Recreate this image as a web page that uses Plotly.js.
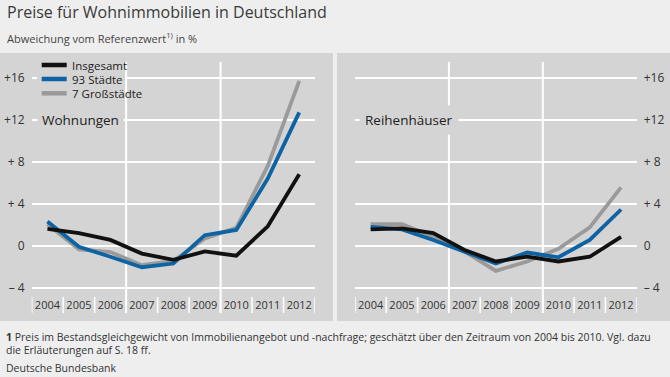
<!DOCTYPE html>
<html>
<head>
<meta charset="utf-8">
<script src="https://cdn.plot.ly/plotly-3.0.1.min.js"></script>
<style>html,body{margin:0;padding:0;background:#eeeeee;}#chart{width:670px;height:377px;}</style>
</head>
<body>
<div id="chart"></div>
<script>
// ---- data ----
const years = [2004, 2005, 2006, 2007, 2008, 2009, 2010, 2011, 2012];
const seriesNames = ['Insgesamt', '93 Städte', '7 Großstädte'];
const panelTitles = ['Wohnungen', 'Reihenhäuser'];
const wohnInsgesamt = [1.6, 1.2, 0.55, -0.75, -1.35, -0.55, -0.95, 1.85, 6.8];
const wohn93 = [2.3, -0.1, -1.05, -2.05, -1.7, 1.0, 1.5, 6.4, 12.7];
const wohn7 = [2.05, -0.35, -0.6, -1.85, -1.45, 0.7, 1.7, 7.6, 15.7];
const reihInsgesamt = [1.55, 1.65, 1.2, -0.4, -1.5, -1.05, -1.5, -1.05, 0.85];
const reih93 = [1.8, 1.55, 0.55, -0.55, -1.7, -0.65, -1.1, 0.55, 3.45];
const reih7 = [2.05, 2.05, 0.85, -0.55, -2.4, -1.5, -0.3, 1.75, 5.55];
const yTickVals = [-4, 0, 4, 8, 12, 16];
const yTickText = ['– 4', '0', '+ 4', '+ 8', '+12', '+16'];
const titleText = 'Preise für Wohnimmobilien in Deutschland';
const subtitleText = 'Abweichung vom Referenzwert<sup>1)</sup> in %';
const footnote1 = '<b>1</b> Preis im Bestandsgleichgewicht von Immobilienangebot und -nachfrage; geschätzt über den Zeitraum von 2004 bis 2010. Vgl. dazu';
const footnote2 = 'die Erläuterungen auf S. 18 ff.';
const sourceText = 'Deutsche Bundesbank';

// ---- styling ----
const W = 670, H = 377;
const px = x => x / W;
const py = y => 1 - y / H;
const FONT = 'Open Sans, sans-serif';
const colors = ['#111111', '#0d63a3', '#9a9a9a'];
const panelColor = '#d4d4d4';
const textColor = '#333333';
const lineW = 3.8;

const leftSeries = [wohnInsgesamt, wohn93, wohn7];
const rightSeries = [reihInsgesamt, reih93, reih7];

const traces = [];
// draw order: 7 Großstädte, 93 Städte, Insgesamt (black on top)
[2, 1, 0].forEach(i => {
  traces.push({x: years, y: leftSeries[i], xaxis: 'x', yaxis: 'y', type: 'scatter', mode: 'lines',
    name: seriesNames[i], line: {color: colors[i], width: lineW}, showlegend: false, hoverinfo: 'skip'});
  traces.push({x: years, y: rightSeries[i], xaxis: 'x2', yaxis: 'y2', type: 'scatter', mode: 'lines',
    name: seriesNames[i], line: {color: colors[i], width: lineW}, showlegend: false, hoverinfo: 'skip'});
});

const yDomain = [py(297), py(62)];
const yRange = [-4.886, 17.5];
const xRange = [years[0] - 0.5, years[years.length - 1] + 0.5];

const xCommon = {range: xRange, tickvals: years, ticktext: years.map(String), showgrid: false, zeroline: false,
  showline: false, ticks: '', tickfont: {family: FONT, size: 11, color: textColor}, fixedrange: true};
const yCommon = {range: yRange, tickvals: yTickVals, ticktext: yTickText, showgrid: true, gridcolor: '#ffffff',
  gridwidth: 2, zeroline: false, showline: false, ticks: '', domain: yDomain,
  tickfont: {family: FONT, size: 12, color: textColor}, ticklabelstandoff: 6, fixedrange: true};

const shapes = [
  {type: 'rect', xref: 'paper', yref: 'paper', x0: px(0), x1: px(333), y0: py(321), y1: py(53), fillcolor: panelColor, line: {width: 0}, layer: 'below'},
  {type: 'rect', xref: 'paper', yref: 'paper', x0: px(337), x1: px(670), y0: py(321), y1: py(53), fillcolor: panelColor, line: {width: 0}, layer: 'below'}
];
['x', 'x2'].forEach(xr => {
  // long vertical lines between 2006/2007 and 2009/2010
  [2, 5].forEach(i => {
    const xb = (years[i] + years[i + 1]) / 2;
    shapes.push({type: 'line', xref: xr, yref: 'paper', x0: xb, x1: xb, y0: py(313), y1: py(62), line: {color: '#ffffff', width: 2}, layer: 'below'});
  });
  // short separators in the label zone
  years.concat([years[years.length - 1] + 1]).forEach(yr => {
    const xb = yr - 0.5;
    shapes.push({type: 'line', xref: xr, yref: 'paper', x0: xb, x1: xb, y0: py(313), y1: py(297), line: {color: '#ffffff', width: 1.5}, layer: 'below'});
  });
});
// legend background + samples
shapes.push({type: 'rect', xref: 'paper', yref: 'paper', x0: px(37), x1: px(125), y0: py(100), y1: py(58), fillcolor: panelColor, line: {width: 0}, layer: 'above'});
const legendY = [65, 79, 93.3];
seriesNames.forEach((n, i) => {
  shapes.push({type: 'line', xref: 'paper', yref: 'paper', x0: px(41.7), x1: px(66.7), y0: py(legendY[i]), y1: py(legendY[i]), line: {color: colors[i], width: 4.5}, layer: 'above'});
});

const annotations = [
  {text: titleText, xref: 'paper', yref: 'paper', x: px(5), y: py(12), xanchor: 'left', yanchor: 'middle', showarrow: false, font: {family: FONT, size: 16, color: '#3a3a3a'}},
  {text: subtitleText, xref: 'paper', yref: 'paper', x: px(5), y: py(38), xanchor: 'left', yanchor: 'middle', showarrow: false, font: {family: FONT, size: 11, color: '#444444'}},
  {text: panelTitles[0], xref: 'paper', yref: 'paper', x: px(37), y: py(120), xanchor: 'left', yanchor: 'middle', showarrow: false, bgcolor: panelColor, borderpad: 4, font: {family: FONT, size: 13.5, color: '#222222'}},
  {text: panelTitles[1], xref: 'paper', yref: 'paper', x: px(359), y: py(120), xanchor: 'left', yanchor: 'middle', showarrow: false, bgcolor: panelColor, borderpad: 5, font: {family: FONT, size: 13.5, color: '#222222'}},
  {text: footnote1, xref: 'paper', yref: 'paper', x: px(4), y: py(337), xanchor: 'left', yanchor: 'middle', showarrow: false, font: {family: FONT, size: 10.5, color: textColor}},
  {text: footnote2, xref: 'paper', yref: 'paper', x: px(4), y: py(350), xanchor: 'left', yanchor: 'middle', showarrow: false, font: {family: FONT, size: 10.5, color: textColor}},
  {text: sourceText, xref: 'paper', yref: 'paper', x: px(4), y: py(368), xanchor: 'left', yanchor: 'middle', showarrow: false, font: {family: FONT, size: 10.5, color: textColor}}
];
seriesNames.forEach((n, i) => {
  annotations.push({text: n, xref: 'paper', yref: 'paper', x: px(70), y: py(legendY[i]), xanchor: 'left', yanchor: 'middle', showarrow: false, font: {family: FONT, size: 11.5, color: '#222222'}});
});

const layout = {
  width: W, height: H,
  margin: {l: 0, r: 0, t: 0, b: 0},
  paper_bgcolor: '#eeeeee',
  plot_bgcolor: 'rgba(0,0,0,0)',
  showlegend: false,
  font: {family: FONT, color: textColor},
  xaxis: Object.assign({}, xCommon, {domain: [px(31.7), px(315)], anchor: 'y'}),
  xaxis2: Object.assign({}, xCommon, {domain: [px(355), px(636.7)], anchor: 'y2'}),
  yaxis: Object.assign({}, yCommon, {anchor: 'x', side: 'left'}),
  yaxis2: Object.assign({}, yCommon, {anchor: 'x2', side: 'right'}),
  shapes: shapes,
  annotations: annotations
};

Plotly.newPlot('chart', traces, layout, {displayModeBar: false, staticPlot: true});
</script>
</body>
</html>
